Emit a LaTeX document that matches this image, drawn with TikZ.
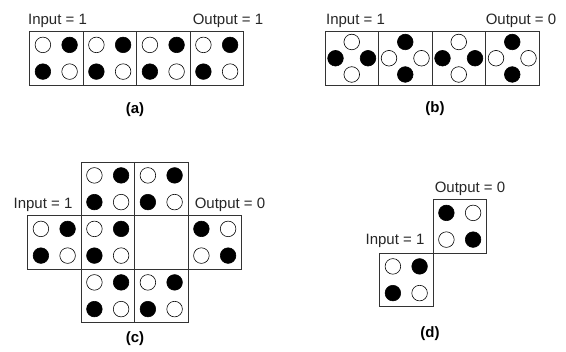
\documentclass[tikz,border=0pt]{standalone}
\usepackage{fontspec}
\setmainfont{Liberation Sans}
\tikzset{
  cellbox/.style={draw=black!80, line width=0.8pt},
  dot/.style={draw=black, line width=0.6pt},
  lab/.style={font=\fontsize{15}{18}\selectfont, text=black!85, inner sep=0pt, anchor=base},
  captext/.style={font=\fontsize{15}{18}\selectfont\bfseries, inner sep=0pt}
}
% square cell, four dots: corner x, corner y, then TL TR BL BR fills
\newcommand{\sqcell}[6]{%
  \draw[cellbox] (#1,#2) rectangle ++(53.5,53.5);
  \draw[dot,fill=#3] (#1+13.4,#2+13.4) circle (7.8pt);
  \draw[dot,fill=#4] (#1+40.1,#2+13.4) circle (7.8pt);
  \draw[dot,fill=#5] (#1+13.4,#2+40.1) circle (7.8pt);
  \draw[dot,fill=#6] (#1+40.1,#2+40.1) circle (7.8pt);
}
% diamond cell: corner x, corner y, then top left right bottom fills
\newcommand{\dicell}[6]{%
  \draw[cellbox] (#1,#2) rectangle ++(53.5,53.5);
  \draw[dot,fill=#3] (#1+26.75,#2+10.5) circle (7.8pt);
  \draw[dot,fill=#4] (#1+10.5,#2+26.75) circle (7.8pt);
  \draw[dot,fill=#5] (#1+43,#2+26.75) circle (7.8pt);
  \draw[dot,fill=#6] (#1+26.75,#2+43) circle (7.8pt);
}
\begin{document}
\begin{tikzpicture}[x=1pt,y=-1pt]
  \useasboundingbox (0,0) rectangle (566,352);
  % (a)
  \sqcell{29.5}{31.5}{white}{black}{black}{white}
  \sqcell{83}{31.5}{white}{black}{black}{white}
  \sqcell{136.5}{31.5}{white}{black}{black}{white}
  \sqcell{190}{31.5}{white}{black}{black}{white}
  \node[lab] (inA) at (57.5,25) {Input = 1};
  \node[lab] (outA) at (228,25) {Output = 1};
  \node[captext] (capA) at (135,110) {(a)};
  % (b)
  \dicell{325}{31.5}{white}{black}{black}{white}
  \dicell{378.5}{31.5}{black}{white}{white}{black}
  \dicell{432}{31.5}{white}{black}{black}{white}
  \dicell{485.5}{31.5}{black}{white}{white}{black}
  \node[lab] (inB) at (355.5,25) {Input = 1};
  \node[lab] (outB) at (521,25) {Output = 0};
  \node[captext] (capB) at (435,108.5) {(b)};
  % (c)
  \sqcell{81}{162}{white}{black}{black}{white}
  \sqcell{134.5}{162}{white}{black}{black}{white}
  \sqcell{27.5}{215.5}{white}{black}{black}{white}
  \sqcell{81}{215.5}{white}{black}{black}{white}
  \draw[cellbox] (134.5,215.5) rectangle ++(53.5,53.5);
  \sqcell{188}{215.5}{black}{white}{white}{black}
  \sqcell{81}{269}{white}{black}{black}{white}
  \sqcell{134.5}{269}{white}{black}{black}{white}
  \node[lab] (inC) at (43,209) {Input = 1};
  \node[lab] (outC) at (230,209) {Output = 0};
  \node[captext] (capC) at (135,339) {(c)};
  % (d)
  \sqcell{433}{199.5}{black}{white}{white}{black}
  \sqcell{379.5}{253}{white}{black}{black}{white}
  \node[lab] (outD) at (470,193) {Output = 0};
  \node[lab] (inD) at (395,245) {Input = 1};
  \node[captext] (capD) at (430,334) {(d)};
\end{tikzpicture}
\end{document}
